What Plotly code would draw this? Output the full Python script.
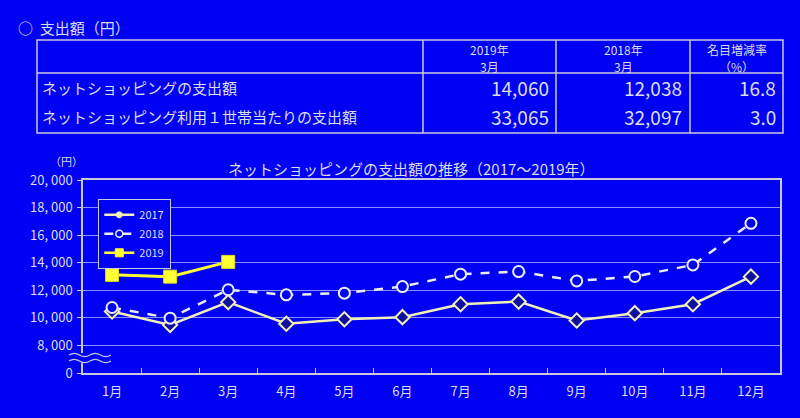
import plotly.graph_objects as go

# ---------------- data ----------------
months = ["1月", "2月", "3月", "4月", "5月", "6月", "7月", "8月", "9月", "10月", "11月", "12月"]
s2017 = [10460, 9490, 11140, 9570, 9900, 10050, 10990, 11180, 9810, 10340, 10990, 12990]
s2018 = [10750, 9980, 12038, 11670, 11790, 12270, 13170, 13360, 12680, 13000, 13840, 16860]
s2019 = [13120, 12990, 14060]
series_names = ["2017", "2018", "2019"]

y_tickvals = [6000, 8000, 10000, 12000, 14000, 16000, 18000, 20000]
y_ticktext = ["0", "8, 000", "10, 000", "12, 000", "14, 000", "16, 000", "18, 000", "20, 000"]

table_rows = ["ネットショッピングの支出額", "ネットショッピング利用１世帯当たりの支出額"]
table_head1 = ["2019年", "2018年", "名目増減率"]
table_head2 = ["3月", "3月", "（%）"]
val_2019 = ["14,060", "33,065"]
val_2018 = ["12,038", "32,097"]
val_rate = ["16.8", "3.0"]

# ---------------- style ----------------
BG = "#0000f2"
TXT = "#dcdcea"
GRID = "#8c8cff"
FRAME = "#c8c8e0"
YEL = "#ffff33"
CREAM = "#f0f0b8"
WHITE = "#ececf4"
FONT = "Noto Sans CJK JP"
W, H = 800, 418


def px(x):
    return x / W


def py(y):
    return 1 - y / H


styles = [
    dict(line=dict(color=CREAM, width=2.5),
         marker=dict(symbol="diamond", size=11, color="#1010a0", line=dict(color=CREAM, width=2))),
    dict(line=dict(color=WHITE, width=2.5, dash="dash"),
         marker=dict(symbol="circle", size=11, color=BG, line=dict(color=WHITE, width=2))),
    dict(line=dict(color=YEL, width=3),
         marker=dict(symbol="square", size=13, color=YEL, line=dict(color="#e0e020", width=1))),
]
legend_markers = [
    dict(symbol="circle", size=6, color=CREAM, line=dict(color=CREAM, width=1)),
    dict(symbol="circle", size=7, color=BG, line=dict(color=WHITE, width=1.5)),
    dict(symbol="square", size=8, color=YEL, line=dict(color=YEL, width=1)),
]

fig = go.Figure()
for name, ys, st in zip(series_names, [s2017, s2018, s2019], styles):
    fig.add_trace(go.Scatter(x=months[:len(ys)], y=ys, name=name, mode="lines+markers",
                             showlegend=False, **st))
# legend entries (no data points, small legend symbols like the original)
for name, st, lm in zip(series_names, styles, legend_markers):
    fig.add_trace(go.Scatter(x=[None], y=[None], name=name, mode="lines+markers",
                             line=dict(color=st["line"]["color"], width=2.5,
                                       dash=st["line"].get("dash", "solid")),
                             marker=lm, showlegend=True))

shapes = []
annotations = []

# ---------------- table ----------------
L, R, T, B, HB = 37, 783, 40, 133, 73
col_x = [423, 556, 690]
line_style = dict(color=FRAME, width=1.5)
shapes.append(dict(type="rect", xref="paper", yref="paper",
                   x0=px(L), x1=px(R), y0=py(B), y1=py(T), line=line_style))
shapes.append(dict(type="line", xref="paper", yref="paper",
                   x0=px(L), x1=px(R), y0=py(HB), y1=py(HB), line=line_style))
for cx in col_x:
    shapes.append(dict(type="line", xref="paper", yref="paper",
                       x0=px(cx), x1=px(cx), y0=py(B), y1=py(T), line=line_style))

annotations.append(dict(text="○  支出額（円）", x=px(16), y=py(27), xref="paper", yref="paper",
                        xanchor="left", yanchor="middle", showarrow=False,
                        font=dict(size=15, color=TXT, family=FONT)))

header_cx = [(col_x[0] + col_x[1]) / 2, (col_x[1] + col_x[2]) / 2, (col_x[2] + R) / 2]
for cx, t1, t2 in zip(header_cx, table_head1, table_head2):
    annotations.append(dict(text=t1, x=px(cx), y=py(49), xref="paper", yref="paper",
                            xanchor="center", yanchor="middle", showarrow=False, borderpad=0,
                            font=dict(size=12, color=TXT, family=FONT)))
    annotations.append(dict(text=t2, x=px(cx), y=py(66), xref="paper", yref="paper",
                            xanchor="center", yanchor="middle", showarrow=False, borderpad=0,
                            font=dict(size=12, color=TXT, family=FONT)))

row_y = [87, 116]
right_edges = [551, 684, 778]
for i, (label, yy) in enumerate(zip(table_rows, row_y)):
    annotations.append(dict(text=label, x=px(40), y=py(yy), xref="paper", yref="paper",
                            xanchor="left", yanchor="middle", showarrow=False,
                            font=dict(size=15, color=TXT, family=FONT)))
    for vals, rx in zip([val_2019, val_2018, val_rate], right_edges):
        annotations.append(dict(text=vals[i], x=px(rx), y=py(yy), xref="paper", yref="paper",
                                xanchor="right", yanchor="middle", showarrow=False,
                                font=dict(size=19, color=TXT, family=FONT)))

# ---------------- chart title / unit ----------------
annotations.append(dict(text="ネットショッピングの支出額の推移（2017～2019年）", x=px(411), y=py(168),
                        xref="paper", yref="paper", xanchor="center", yanchor="middle",
                        showarrow=False, font=dict(size=15, color=TXT, family=FONT)))
annotations.append(dict(text="（円）", x=px(66), y=py(161), xref="paper", yref="paper",
                        xanchor="center", yanchor="middle", showarrow=False, borderpad=0,
                        font=dict(size=11, color=TXT, family=FONT)))

# ---------------- axis break (squiggle) ----------------
shapes.append(dict(type="rect", xref="paper", yref="paper",
                   x0=px(80), x1=px(86), y0=py(362), y1=py(353),
                   fillcolor=BG, line=dict(width=0), layer="above"))


def wave(x0, x1, yc, amp=1.6, n=2):
    seg = (x1 - x0) / (2 * n)
    d = f"M {px(x0)},{py(yc)}"
    x = x0
    for k in range(2 * n):
        sign = -1 if k % 2 == 0 else 1
        d += f" Q {px(x + seg / 2)},{py(yc + sign * amp * 2)} {px(x + seg)},{py(yc)}"
        x += seg
    return d


for yc in (355, 361):
    shapes.append(dict(type="path", xref="paper", yref="paper", path=wave(69, 111, yc),
                       line=dict(color=FRAME, width=1.3), layer="above"))

fig.update_layout(
    width=W, height=H,
    margin=dict(l=0, r=0, t=0, b=0, autoexpand=False),
    paper_bgcolor=BG, plot_bgcolor=BG,
    font=dict(family=FONT, color=TXT),
    showlegend=True,
    legend=dict(x=px(98), y=py(199), xanchor="left", yanchor="top",
                bgcolor=BG, bordercolor=FRAME, borderwidth=1.3,
                font=dict(size=11, color=TXT, family=FONT),
                itemwidth=30, tracegroupgap=0, itemsizing="trace"),
    xaxis=dict(domain=[px(83), px(780)], type="category", range=[-0.5, 11.5],
               automargin=False, ticklabelstandoff=6,
               showgrid=False, showline=True, linecolor=FRAME, linewidth=1.5, mirror=True,
               ticks="inside", tickson="boundaries", ticklen=5, tickcolor=FRAME,
               tickfont=dict(size=13, color=TXT, family=FONT), zeroline=False),
    yaxis=dict(domain=[py(373), py(180)], range=[6000, 20000], automargin=False,
               tickvals=y_tickvals, ticktext=y_ticktext, ticklabelstandoff=2,
               showgrid=True, gridcolor=GRID, gridwidth=1,
               showline=True, linecolor=FRAME, linewidth=1.5, mirror=True,
               ticks="outside", ticklen=4, tickcolor=FRAME,
               tickfont=dict(size=13, color=TXT, family=FONT), zeroline=False),
    shapes=shapes,
    annotations=annotations,
)

fig.write_html("out.html")
